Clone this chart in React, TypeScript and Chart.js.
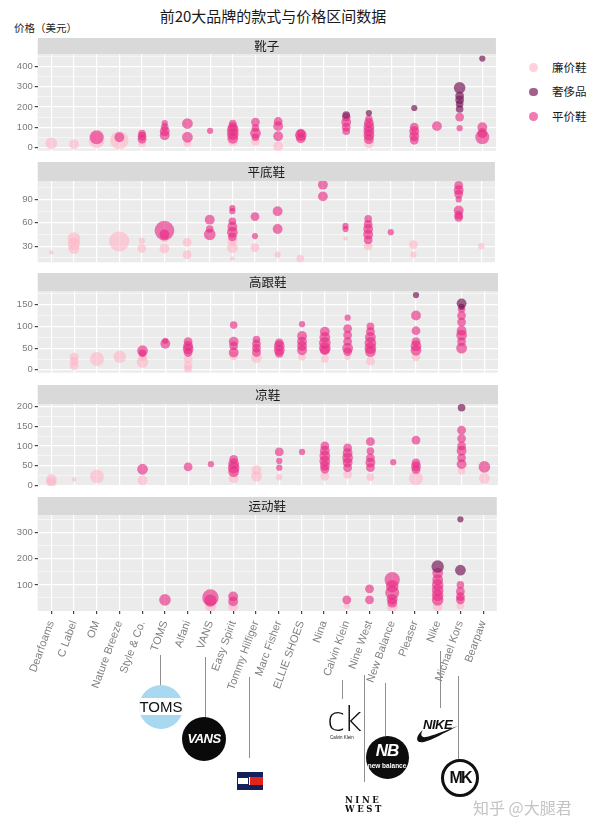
import React, { useEffect, useRef } from "react";
import { Chart, registerables } from "chart.js";

Chart.register(...registerables);

// ---------------- data ----------------
const brands = [
  "Dearfoams", "C Label", "OM", "Nature Breeze", "Style & Co.", "TOMS", "Alfani", "VANS",
  "Easy Spirit", "Tommy Hilfiger", "Marc Fisher", "ELLIE SHOES", "Nina", "Calvin Klein",
  "Nine West", "New Balance", "Pleaser", "Nike", "Michael Kors", "Bearpaw",
];
const tiers = ["廉价鞋", "奢侈品", "平价鞋"];
const styles = ["靴子", "平底鞋", "高跟鞋", "凉鞋", "运动鞋"];

// each point: [brand index, price (USD), number of items]
const bootsCheap = [
  [0, 20, 7], [1, 15, 5], [2, 35, 13], [3, 35, 17], [4, 20, 3], [6, 20, 3], [8, 30, 5],
  [9, 30, 4], [10, 5, 5], [14, 20, 5],
];
const bootsLuxury = [
  [13, 160, 3], [14, 170, 2], [16, 195, 2], [18, 295, 7], [18, 255, 4], [18, 235, 4],
  [18, 215, 3], [18, 190, 3], [19, 440, 2],
];
const bootsMid = [
  [2, 50, 10], [3, 50, 5], [4, 40, 4], [4, 55, 4], [4, 68, 3], [5, 60, 5], [5, 80, 5],
  [5, 100, 3], [5, 120, 2], [6, 118, 6], [6, 50, 6], [7, 82, 2], [8, 45, 6], [8, 65, 7],
  [8, 85, 7], [8, 100, 5], [8, 118, 3], [9, 125, 4], [9, 95, 3], [9, 70, 6], [9, 50, 3],
  [10, 128, 4], [10, 105, 5], [10, 55, 5], [11, 45, 5], [11, 60, 7], [11, 70, 4],
  [13, 150, 4], [13, 125, 5], [13, 100, 4], [13, 80, 3], [14, 140, 3], [14, 120, 5],
  [14, 100, 6], [14, 80, 6], [14, 60, 6], [14, 40, 5], [16, 100, 4], [16, 80, 5],
  [16, 55, 5], [16, 35, 4], [17, 105, 5], [18, 150, 4], [18, 95, 2], [19, 100, 5],
  [19, 70, 5], [19, 50, 10],
];

const flatsCheap = [
  [0, 22, 1], [1, 40, 8], [1, 33, 8], [1, 27, 6], [3, 36, 21], [4, 27, 4], [4, 37, 2],
  [5, 27, 5], [5, 40, 3], [6, 35, 4], [6, 19, 4], [8, 37, 5], [8, 28, 6], [8, 14, 1],
  [9, 28, 4], [10, 19, 2], [11, 14, 3], [13, 40, 1], [14, 30, 4], [16, 32, 4], [16, 19, 2],
  [19, 30, 2],
];
const flatsLuxury = [];
const flatsMid = [
  [5, 50, 20], [5, 45, 5], [7, 64, 5], [7, 52, 3], [7, 45, 7], [8, 79, 2], [8, 75, 2],
  [8, 62, 3], [8, 55, 5], [8, 48, 6], [8, 42, 4], [9, 68, 4], [9, 43, 2], [10, 75, 5],
  [10, 52, 5], [12, 109, 5], [12, 94, 5], [13, 56, 2], [13, 52, 2], [14, 65, 3], [14, 58, 4],
  [14, 52, 5], [14, 45, 5], [14, 38, 4], [15, 48, 2], [18, 108, 4], [18, 102, 5],
  [18, 97, 4], [18, 90, 2], [18, 76, 5], [18, 70, 4], [18, 67, 4],
];

const heelsCheap = [
  [1, 30, 4], [1, 20, 4], [1, 10, 4], [2, 25, 10], [3, 30, 8], [4, 18, 7], [4, 30, 4],
  [6, 25, 4], [6, 10, 4], [6, 2, 3], [8, 32, 4], [9, 28, 6], [11, 30, 3], [12, 25, 3],
  [13, 30, 2], [14, 20, 4], [16, 30, 4],
];
const heelsLuxury = [[16, 172, 2], [18, 153, 5], [18, 145, 2]];
const heelsMid = [
  [4, 44, 6], [4, 38, 3], [5, 60, 5], [5, 67, 2], [6, 65, 4], [6, 55, 5], [6, 48, 6],
  [6, 40, 4], [8, 103, 3], [8, 65, 5], [8, 55, 4], [8, 40, 5], [9, 70, 3], [9, 60, 4],
  [9, 50, 4], [9, 40, 4], [10, 62, 4], [10, 55, 6], [10, 45, 6], [10, 38, 4], [11, 105, 2],
  [11, 78, 5], [11, 65, 5], [11, 55, 5], [11, 45, 5], [12, 88, 5], [12, 75, 6], [12, 62, 7],
  [12, 50, 7], [12, 45, 5], [13, 120, 2], [13, 95, 4], [13, 80, 4], [13, 65, 4], [13, 50, 6],
  [13, 42, 4], [14, 100, 3], [14, 88, 4], [14, 75, 6], [14, 62, 7], [14, 50, 7], [14, 42, 6],
  [16, 125, 5], [16, 90, 4], [16, 65, 4], [16, 55, 6], [16, 45, 6], [18, 140, 3],
  [18, 125, 4], [18, 110, 4], [18, 90, 5], [18, 80, 6], [18, 65, 4], [18, 50, 6],
];

const sandalsCheap = [
  [0, 15, 6], [0, 8, 5], [1, 15, 1], [2, 23, 10], [4, 13, 5], [8, 18, 5], [9, 39, 5],
  [9, 23, 6], [10, 21, 2], [12, 23, 4], [13, 28, 4], [14, 21, 3], [16, 18, 10], [18, 37, 3],
  [19, 18, 6],
];
const sandalsLuxury = [[18, 197, 3]];
const sandalsMid = [
  [4, 41, 6], [6, 47, 4], [7, 54, 2], [8, 66, 4], [8, 55, 6], [8, 45, 7], [8, 35, 6],
  [10, 85, 4], [10, 62, 2], [10, 45, 2], [11, 85, 2], [12, 100, 4], [12, 88, 5], [12, 75, 6],
  [12, 62, 6], [12, 50, 5], [12, 41, 4], [13, 95, 4], [13, 82, 5], [13, 70, 6], [13, 58, 5],
  [13, 45, 4], [14, 111, 4], [14, 87, 3], [14, 70, 4], [14, 58, 5], [14, 45, 4], [15, 59, 2],
  [16, 115, 4], [16, 57, 4], [16, 48, 5], [16, 40, 4], [18, 140, 4], [18, 119, 4],
  [18, 100, 4], [18, 88, 5], [18, 70, 4], [18, 54, 5], [19, 47, 7],
];

const sportsCheap = [[7, 17, 6], [8, 17, 5], [13, 20, 2], [15, 17, 6], [17, 17, 5], [18, 20, 3]];
const sportsLuxury = [[17, 170, 8], [18, 350, 2], [18, 156, 6]];
const sportsMid = [
  [5, 43, 7], [7, 52, 14], [7, 40, 8], [8, 56, 5], [8, 37, 5], [13, 43, 4], [14, 85, 4],
  [14, 43, 4], [15, 120, 12], [15, 95, 8], [15, 70, 10], [15, 45, 6], [15, 32, 5],
  [17, 145, 6], [17, 120, 6], [17, 100, 7], [17, 80, 7], [17, 60, 7], [17, 43, 7],
  [18, 100, 3], [18, 75, 4], [18, 55, 4], [18, 43, 4],
];

const bootsTicks = [0, 100, 200, 300, 400];
const flatsTicks = [30, 60, 90];
const heelsTicks = [0, 50, 100, 150];
const sandalsTicks = [0, 50, 100, 150, 200];
const sportsTicks = [100, 200, 300];

const facetSeries = [
  [bootsCheap, bootsLuxury, bootsMid],
  [flatsCheap, flatsLuxury, flatsMid],
  [heelsCheap, heelsLuxury, heelsMid],
  [sandalsCheap, sandalsLuxury, sandalsMid],
  [sportsCheap, sportsLuxury, sportsMid],
];
const facetTicks = [bootsTicks, flatsTicks, heelsTicks, sandalsTicks, sportsTicks];

// ---------------- style / layout ----------------
const AXIS_FONT = "'Liberation Sans', Arial, sans-serif";
const CJK_FONT = "'Noto Sans CJK SC', sans-serif";
const tierFill = ["rgba(255,182,200,0.62)", "rgba(122,28,92,0.7)", "rgba(232,40,130,0.62)"];
const tierOrder = [2, 0, 1];
const PANEL_LEFT = 37.7;
const PANEL_RIGHT = 505;
const AXIS_AREA = 100;
const facetBoxes = [
  { strip: 38.3, top: 54.5, bottom: 151 },
  { strip: 161.7, top: 180.7, bottom: 262 },
  { strip: 273.3, top: 291.7, bottom: 373 },
  { strip: 385, top: 404, bottom: 486 },
  { strip: 497, top: 515, bottom: 611 },
];
const radiusOf = (n: number) => Math.sqrt(n) * 2.2;

Chart.defaults.font.family = AXIS_FONT;

function Facet({ k }: { k: number }) {
  const ref = useRef<HTMLCanvasElement>(null);
  const box = facetBoxes[k];
  const isLast = k === facetBoxes.length - 1;
  const stripH = box.top - box.strip;
  const panelH = box.bottom - box.top;
  const H = Math.ceil(stripH + panelH + (isLast ? AXIS_AREA : 10));
  const rest = H - stripH - panelH;

  useEffect(() => {
    const series = facetSeries[k];
    const majors = facetTicks[k];
    const prices = series.flatMap((s) => s.map((p) => p[1]));
    const lo = Math.min(...prices);
    const hi = Math.max(...prices);
    const pad = (hi - lo) * 0.05;
    const yMin = lo - pad;
    const yMax = hi + pad;
    const half = (majors[1] - majors[0]) / 2;
    const all: number[] = [];
    for (let v = majors[0] - half; v <= yMax; v += half) if (v >= yMin) all.push(v);
    const isMajor = (v: number) => majors.includes(v);

    const facetPlugin = {
      id: "facet" + k,
      beforeDraw(chart: any) {
        const { ctx, chartArea: a } = chart;
        ctx.save();
        ctx.fillStyle = "#EBEBEB";
        ctx.fillRect(a.left, a.top, a.right - a.left, a.bottom - a.top);
        ctx.fillStyle = "#D9D9D9";
        ctx.fillRect(a.left, a.top - stripH, a.right - a.left, stripH);
        ctx.fillStyle = "#1A1A1A";
        ctx.font = `12.5px ${CJK_FONT}`;
        ctx.textAlign = "center";
        ctx.textBaseline = "middle";
        ctx.fillText(styles[k], (a.left + a.right) / 2, a.top - stripH / 2 + 0.5);
        ctx.restore();
      },
    };

    const chart = new Chart(ref.current as HTMLCanvasElement, {
      type: "bubble",
      data: {
        datasets: tiers.map((t, i) => ({
          label: t,
          data: series[i].map(([b, p, n]) => ({ x: b, y: p, r: radiusOf(n) })),
          backgroundColor: tierFill[i],
          hoverBackgroundColor: tierFill[i],
          borderWidth: 0,
          hoverBorderWidth: 0,
          order: tierOrder[i],
          clip: 0,
        })),
      },
      options: {
        animation: false,
        responsive: false,
        maintainAspectRatio: false,
        events: [],
        layout: { padding: { top: stripH, bottom: isLast ? 0 : rest, left: 0, right: 0 } },
        plugins: { legend: { display: false }, tooltip: { enabled: false } },
        scales: {
          x: {
            type: "linear",
            min: -0.6,
            max: brands.length - 0.4,
            afterBuildTicks: (s: any) => {
              s.ticks = brands.map((_, i) => ({ value: i }));
            },
            afterFit: (s: any) => {
              s.height = isLast ? rest : 0;
              s.paddingLeft = 0;
              s.paddingRight = 0;
            },
            ticks: {
              display: isLast,
              autoSkip: false,
              minRotation: 70,
              maxRotation: 70,
              padding: 5,
              color: "#7f7f7f",
              font: { size: 11, family: AXIS_FONT },
              callback: (v: any) => brands[v as number],
            },
            grid: {
              color: "#ffffff",
              lineWidth: 1.2,
              drawTicks: isLast,
              tickLength: 3,
              tickColor: "#444444",
            },
            border: { display: false },
          },
          y: {
            type: "linear",
            min: yMin,
            max: yMax,
            afterBuildTicks: (s: any) => {
              s.ticks = all.map((v) => ({ value: v }));
            },
            afterFit: (s: any) => {
              s.width = PANEL_LEFT;
              s.paddingTop = 0;
              s.paddingBottom = 0;
            },
            ticks: {
              autoSkip: false,
              padding: 2,
              color: "#7a7a7a",
              font: { size: 9.5, family: AXIS_FONT },
              callback: (v: any) => (isMajor(v as number) ? String(v) : ""),
            },
            grid: {
              color: "#ffffff",
              lineWidth: (c: any) => (isMajor(c.tick?.value) ? 1.2 : 0.55),
              tickLength: 3,
              tickColor: (c: any) => (isMajor(c.tick?.value) ? "#444444" : "rgba(0,0,0,0)"),
            },
            border: { display: false },
          },
        },
      },
      plugins: [facetPlugin],
    } as any);
    return () => chart.destroy();
  }, []);

  return (
    <canvas
      ref={ref}
      width={PANEL_RIGHT}
      height={H}
      style={{ position: "absolute", left: 0, top: box.strip, width: PANEL_RIGHT, height: H }}
    />
  );
}

const abs = (s: React.CSSProperties): React.CSSProperties => ({ position: "absolute", ...s });

function Leader({ x, y1, y2 }: { x: number; y1: number; y2: number }) {
  return <div style={abs({ left: x, top: y1, width: 1, height: y2 - y1, background: "#8f8f8f" })} />;
}

function BrandMarks() {
  return (
    <>
      <Leader x={160} y1={655} y2={686} />
      <Leader x={204.5} y1={657} y2={718} />
      <Leader x={249} y1={677} y2={758} />
      <Leader x={341.5} y1={680} y2={699} />
      <Leader x={364} y1={675} y2={782} />
      <Leader x={385} y1={683} y2={736} />
      <Leader x={440} y1={651} y2={708} />
      <Leader x={457.5} y1={676} y2={760} />

      {/* TOMS */}
      <div style={abs({ left: 139, top: 685, width: 44, height: 44, borderRadius: "50%", background: "#A9D8F1", overflow: "hidden" })}>
        <div style={abs({ left: 0, top: 13, width: 44, height: 17, background: "#ffffff" })} />
      </div>
      <div style={abs({ left: 131, top: 697, width: 60, textAlign: "center", font: `15px ${AXIS_FONT}`, lineHeight: "20px", color: "#111" })}>TOMS</div>

      {/* VANS */}
      <div style={abs({ left: 182, top: 717, width: 44, height: 44, borderRadius: "50%", background: "#0a0a0a" })} />
      <div style={abs({ left: 182, top: 730, width: 44, textAlign: "center", font: `italic bold 13px ${AXIS_FONT}`, lineHeight: "18px", color: "#fff", letterSpacing: "-0.5px" })}>VANS</div>

      {/* Tommy Hilfiger flag */}
      <div style={abs({ left: 237, top: 772, width: 26, height: 5, background: "#13205a" })} />
      <div style={abs({ left: 237, top: 777, width: 12, height: 8, background: "#ffffff", boxSizing: "border-box", border: "1px solid #13205a" })} />
      <div style={abs({ left: 250, top: 777, width: 13, height: 8, background: "#e3241b" })} />
      <div style={abs({ left: 237, top: 785, width: 26, height: 5, background: "#13205a" })} />

      {/* Calvin Klein */}
      <div style={abs({ left: 327, top: 703, font: `200 33px 'DejaVu Sans', sans-serif`, lineHeight: "33px", color: "#111", letterSpacing: "-2px" })}>ck</div>
      <div style={abs({ left: 326, top: 735, width: 32, textAlign: "center", font: `4.5px ${AXIS_FONT}`, lineHeight: "5px", color: "#222" })}>Calvin Klein</div>

      {/* New Balance */}
      <div style={abs({ left: 365.5, top: 735.5, width: 43, height: 43, borderRadius: "50%", background: "#0d0d0d" })} />
      <div style={abs({ left: 365.5, top: 742, width: 43, textAlign: "center", font: `italic bold 17px ${AXIS_FONT}`, lineHeight: "18px", color: "#fff", letterSpacing: "-1px" })}>NB</div>
      <div style={abs({ left: 365.5, top: 762, width: 43, textAlign: "center", font: `bold 6.5px ${AXIS_FONT}`, lineHeight: "8px", color: "#fff" })}>new balance</div>

      {/* Nine West */}
      <div style={abs({ left: 345, top: 796, font: `bold 8.5px 'DejaVu Serif', serif`, lineHeight: "8.5px", color: "#111", letterSpacing: "2.6px" })}>
        NINE
        <br />
        WEST
      </div>

      {/* Nike */}
      <div style={abs({ left: 423, top: 717, font: `italic bold 13px ${AXIS_FONT}`, lineHeight: "15px", color: "#111", letterSpacing: "-0.5px" })}>NIKE</div>
      <svg style={abs({ left: 414, top: 718, width: 46, height: 26 })} viewBox="0 0 46 26">
        <path d="M 9 12 C 1 18, 1 26, 10 24 C 18 22, 30 15, 44 8 C 30 13, 18 18, 12 19 C 7 20, 6 16, 9 12 Z" fill="#111" />
      </svg>

      {/* Michael Kors */}
      <div style={abs({ left: 441, top: 759, width: 38, height: 38, borderRadius: "50%", border: "3px solid #111", boxSizing: "border-box", background: "#fff" })} />
      <div style={abs({ left: 441, top: 768, width: 38, textAlign: "center", font: `bold 16px ${AXIS_FONT}`, lineHeight: "20px", color: "#111", letterSpacing: "-2px" })}>MK</div>
    </>
  );
}

export default function App() {
  return (
    <div style={abs({ left: 0, top: 0, width: 600, height: 831, background: "#ffffff", overflow: "hidden" })}>
      <div style={abs({ left: 0, top: 6, width: 546, textAlign: "center", font: `15px ${CJK_FONT}`, lineHeight: "20px", color: "#1a1a1a" })}>
        前20大品牌的款式与价格区间数据
      </div>
      <div style={abs({ left: 14, top: 21, font: `10.5px ${CJK_FONT}`, lineHeight: "14px", color: "#1a1a1a" })}>价格（美元）</div>

      {facetBoxes.map((_, k) => (
        <Facet key={k} k={k} />
      ))}

      {tiers.map((t, i) => (
        <React.Fragment key={t}>
          <div style={abs({ left: 529, top: 63 + i * 24.5, width: 8.5, height: 8.5, borderRadius: "50%", background: tierFill[i] })} />
          <div style={abs({ left: 552, top: 58.5 + i * 24.5, font: `11.5px ${CJK_FONT}`, lineHeight: "17px", color: "#1a1a1a" })}>{t}</div>
        </React.Fragment>
      ))}

      <BrandMarks />

      <div style={abs({ left: 473, top: 797, font: `16px ${CJK_FONT}`, lineHeight: "20px", color: "#c4c4c4" })}>知乎 @大腿君</div>
    </div>
  );
}
